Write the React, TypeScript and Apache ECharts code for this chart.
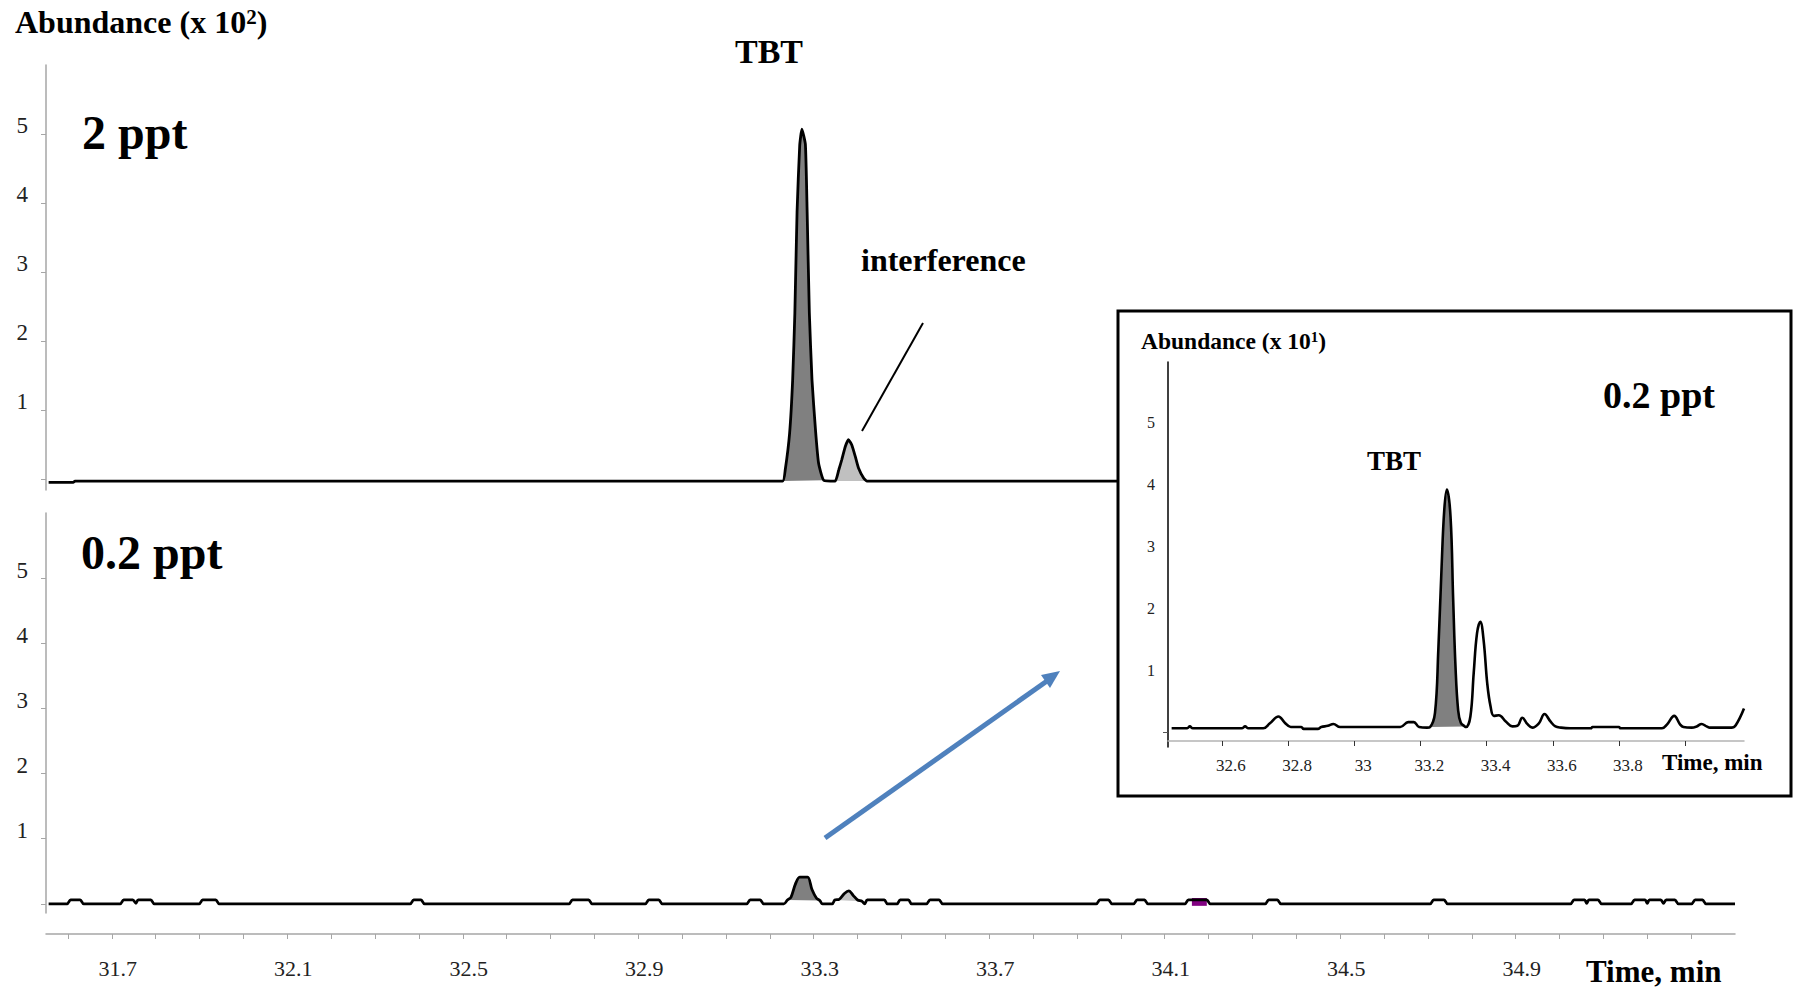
import React, { useEffect, useRef } from 'react';
import * as echarts from 'echarts';

const FONT = '"Liberation Serif", "Times New Roman", Times, serif';

// Upper panel (2 ppt): [retention time, abundance x 10^2]
const topTrace: [number, number][] = [
  [31.556, -0.05], [31.612, -0.05], [31.616, -0.03],
  [33.229, -0.03], [33.235, 0.13], [33.245, 0.66], [33.252, 1.44], [33.257, 2.41], [33.262, 3.87],
  [33.268, 4.83], [33.273, 5.07], [33.281, 4.85], [33.285, 3.87], [33.29, 2.41], [33.296, 1.44],
  [33.304, 0.71], [33.311, 0.23], [33.323, -0.02], [33.349, -0.03],
  [33.357, 0.13], [33.364, 0.28], [33.372, 0.47], [33.379, 0.57], [33.387, 0.49], [33.395, 0.32],
  [33.402, 0.16], [33.414, 0.01], [33.421, -0.03], [35.4, -0.03],
];

// Lower panel (0.2 ppt): [retention time, abundance x 10^2]
const bottomTrace: [number, number][] = [
  [31.556, 0],
  [31.598, 0], [31.606, 0.06], [31.628, 0.06], [31.636, 0],
  [31.719, 0], [31.727, 0.06], [31.748, 0.06], [31.755, 0.01], [31.76, 0.06], [31.789, 0.06], [31.797, 0],
  [31.899, 0], [31.907, 0.06], [31.937, 0.06], [31.945, 0],
  [32.38, 0], [32.388, 0.06], [32.405, 0.06], [32.413, 0],
  [32.742, 0], [32.75, 0.06], [32.787, 0.06], [32.795, 0],
  [32.916, 0], [32.924, 0.06], [32.947, 0.06], [32.955, 0],
  [33.147, 0], [33.155, 0.06], [33.178, 0.06], [33.186, 0],
  [33.232, 0], [33.24, 0.06], [33.248, 0.1], [33.258, 0.3], [33.268, 0.41], [33.286, 0.41],
  [33.296, 0.22], [33.306, 0.09], [33.314, 0.05], [33.32, 0],
  [33.342, 0], [33.348, 0.06], [33.358, 0.07], [33.37, 0.16], [33.38, 0.2], [33.39, 0.13],
  [33.4, 0.06], [33.41, 0.04], [33.416, 0], [33.422, 0.06],
  [33.461, 0.06], [33.468, 0],
  [33.49, 0], [33.497, 0.06], [33.516, 0.06], [33.523, 0],
  [33.557, 0], [33.565, 0.06], [33.586, 0.06], [33.594, 0],
  [33.944, 0], [33.952, 0.06], [33.972, 0.06], [33.98, 0],
  [34.029, 0], [34.037, 0.06], [34.054, 0.06], [34.062, 0],
  [34.146, 0], [34.154, 0.06], [34.196, 0.06], [34.204, 0],
  [34.329, 0], [34.337, 0.06], [34.357, 0.06], [34.365, 0],
  [34.705, 0], [34.713, 0.06], [34.737, 0.06], [34.745, 0],
  [35.025, 0], [35.033, 0.06], [35.057, 0.06], [35.062, 0.01], [35.067, 0.06], [35.088, 0.06], [35.096, 0],
  [35.163, 0], [35.171, 0.06], [35.195, 0.06], [35.2, 0.01], [35.205, 0.06], [35.231, 0.06],
  [35.237, 0.01], [35.243, 0.06], [35.263, 0.06], [35.271, 0],
  [35.301, 0], [35.309, 0.06], [35.326, 0.06], [35.334, 0],
  [35.4, 0],
];

// Inset (0.2 ppt, expanded): [retention time, abundance x 10^1]
const insetTrace: [number, number][] = [
  [32.448, 0.06], [32.495, 0.06], [32.503, 0.09], [32.512, 0.06],
  [32.66, 0.06], [32.67, 0.09], [32.68, 0.06],
  [32.725, 0.06], [32.745, 0.14], [32.771, 0.25], [32.79, 0.15], [32.808, 0.08], [32.84, 0.08],
  [32.847, 0.05], [32.89, 0.05], [32.9, 0.08], [32.92, 0.1], [32.937, 0.13], [32.957, 0.08],
  [33.139, 0.08], [33.163, 0.16], [33.18, 0.16], [33.196, 0.08], [33.22, 0.07],
  [33.229, 0.08], [33.244, 0.31], [33.254, 1.32], [33.264, 2.67], [33.272, 3.58], [33.28, 3.91],
  [33.291, 3.47], [33.299, 2.13], [33.306, 1.05], [33.314, 0.35], [33.322, 0.15], [33.334, 0.09],
  [33.338, 0.08], [33.351, 0.25], [33.361, 0.95], [33.371, 1.59], [33.381, 1.78], [33.391, 1.48],
  [33.402, 0.78], [33.412, 0.41], [33.422, 0.26], [33.437, 0.27], [33.458, 0.17], [33.478, 0.09],
  [33.493, 0.1], [33.508, 0.23], [33.523, 0.13], [33.538, 0.07], [33.558, 0.14], [33.575, 0.29],
  [33.593, 0.17], [33.608, 0.09], [33.625, 0.07],
  [33.653, 0.06], [33.715, 0.06], [33.72, 0.08], [33.8, 0.08], [33.805, 0.06], [33.93, 0.06],
  [33.945, 0.12], [33.967, 0.26], [33.985, 0.12], [33.995, 0.08], [34.02, 0.07], [34.035, 0.09],
  [34.05, 0.13], [34.065, 0.09], [34.075, 0.07], [34.11, 0.07], [34.14, 0.07], [34.153, 0.11],
  [34.178, 0.38],
];

// Integrated peak windows (retention time, min)
const topTbtRange = [33.229, 33.323];
const topInterferenceRange = [33.349, 33.421];
const bottomTbtRange = [33.24, 33.314];
const bottomInterferenceRange = [33.348, 33.41];
const insetTbtRange = [33.229, 33.334];
const flaggedSpan = [34.162, 34.196];

// Axis ticks and labels
const mainXTicks = [
  31.6, 31.7, 31.8, 31.9, 32.0, 32.1, 32.2, 32.3, 32.4, 32.5, 32.6, 32.7, 32.8, 32.9, 33.0, 33.1,
  33.2, 33.3, 33.4, 33.5, 33.6, 33.7, 33.8, 33.9, 34.0, 34.1, 34.2, 34.3, 34.4, 34.5, 34.6, 34.7,
  34.8, 34.9, 35.0, 35.1, 35.2, 35.3,
];
const mainXLabels = [31.7, 32.1, 32.5, 32.9, 33.3, 33.7, 34.1, 34.5, 34.9];
const mainYTicks = [0, 1, 2, 3, 4, 5];
const mainYLabels = [1, 2, 3, 4, 5];
const insetXTicks = [32.6, 32.8, 33.0, 33.2, 33.4, 33.6, 33.8, 34.0];
const insetXLabels = [32.6, 32.8, 33.0, 33.2, 33.4, 33.6, 33.8];
const insetYTicks = [0];
const insetYLabels = [1, 2, 3, 4, 5];

const GRAY_AXIS = '#a6a6a6';
const DARK_FILL = '#808080';
const LIGHT_FILL = '#c0c0c0';

function peakFill(
  trace: [number, number][],
  range: number[],
  color: string,
  axisIndex: number,
  z: number
) {
  const pts = trace.filter((p) => p[0] >= range[0] && p[0] <= range[1]);
  return {
    type: 'custom',
    xAxisIndex: axisIndex,
    yAxisIndex: axisIndex,
    z,
    silent: true,
    data: [pts[0]],
    renderItem: (_params: any, api: any) => ({
      type: 'polygon',
      shape: { points: pts.map((p) => api.coord(p)) },
      style: { fill: color },
    }),
  };
}

function boldText(text: string, x: number, y: number, size: number, align = 'left') {
  return {
    type: 'text',
    x,
    y,
    z: 70,
    style: {
      text,
      fontFamily: FONT,
      fontSize: size,
      fontWeight: 'bold',
      fill: '#000',
      align,
      verticalAlign: 'middle',
    },
  };
}

function supText(base: string, sup: string, x: number, y: number, size: number, supSize: number) {
  const tok = { fontFamily: FONT, fontWeight: 'bold', fill: '#000' };
  return {
    type: 'text',
    x,
    y,
    z: 70,
    style: {
      text: `{a|${base}}{s|${sup}}{a|)}`,
      verticalAlign: 'middle',
      rich: {
        a: { ...tok, fontSize: size },
        s: { ...tok, fontSize: supSize, verticalAlign: 'top' },
      },
    },
  };
}

const fmt = (v: number) => String(Number(v.toFixed(1)));

const mainYAxis = (gridIndex: number, min: number) => ({
  type: 'value',
  gridIndex,
  min,
  max: 6,
  axisLine: { show: true, lineStyle: { color: GRAY_AXIS, width: 1.5 } },
  axisTick: { show: true, customValues: mainYTicks, length: 5, lineStyle: { color: GRAY_AXIS } },
  axisLabel: {
    customValues: mainYLabels,
    margin: 18,
    fontSize: 23,
    fontFamily: FONT,
    color: '#222',
    verticalAlign: 'bottom',
    lineHeight: 16,
  },
  splitLine: { show: false },
});

const option: any = {
  animation: false,
  backgroundColor: '#fff',
  grid: [
    { left: 46, top: 65, width: 1689, height: 425 },
    { left: 46, top: 513, width: 1689, height: 400 },
    { left: 1168, top: 362, width: 576, height: 385, z: 60 },
  ],
  xAxis: [
    { type: 'value', gridIndex: 0, min: 31.55, max: 35.4, show: false },
    {
      type: 'value',
      gridIndex: 1,
      min: 31.55,
      max: 35.4,
      position: 'bottom',
      offset: 21,
      axisLine: { show: true, onZero: false, lineStyle: { color: GRAY_AXIS, width: 1.5 } },
      axisTick: { show: true, customValues: mainXTicks, length: 5, lineStyle: { color: GRAY_AXIS } },
      axisLabel: {
        customValues: mainXLabels,
        formatter: (v: number) => v.toFixed(1),
        margin: 23,
        fontSize: 22,
        fontFamily: FONT,
        color: '#222',
        padding: [0, 0, 0, 12],
      },
      splitLine: { show: false },
    },
    {
      type: 'value',
      gridIndex: 2,
      min: 32.437,
      max: 34.178,
      position: 'bottom',
      offset: -6,
      z: 60,
      axisLine: { show: true, onZero: false, lineStyle: { color: '#b4b4b4', width: 1.5 } },
      axisTick: { show: true, customValues: insetXTicks, length: 5, lineStyle: { color: '#333' } },
      axisLabel: {
        customValues: insetXLabels,
        formatter: fmt,
        margin: 16,
        fontSize: 17,
        fontFamily: FONT,
        color: '#222',
        padding: [0, 0, 0, 18],
      },
      splitLine: { show: false },
    },
  ],
  yAxis: [
    mainYAxis(0, -0.16),
    mainYAxis(1, -0.14),
    {
      type: 'value',
      gridIndex: 2,
      min: -0.242,
      max: 5.97,
      z: 60,
      axisLine: { show: true, lineStyle: { color: '#000', width: 1.5 } },
      axisTick: { show: true, customValues: insetYTicks, length: 5, lineStyle: { color: '#555' } },
      axisLabel: {
        customValues: insetYLabels,
        margin: 13,
        fontSize: 16,
        fontFamily: FONT,
        color: '#222',
      },
      splitLine: { show: false },
    },
  ],
  series: [
    peakFill(topTrace, topTbtRange, DARK_FILL, 0, 2),
    peakFill(topTrace, topInterferenceRange, LIGHT_FILL, 0, 2),
    {
      type: 'line',
      xAxisIndex: 0,
      yAxisIndex: 0,
      data: topTrace,
      showSymbol: false,
      smooth: 0.15,
      z: 3,
      lineStyle: { color: '#000', width: 2.8 },
    },
    peakFill(bottomTrace, bottomTbtRange, DARK_FILL, 1, 2),
    peakFill(bottomTrace, bottomInterferenceRange, LIGHT_FILL, 1, 2),
    {
      type: 'line',
      xAxisIndex: 1,
      yAxisIndex: 1,
      data: bottomTrace,
      showSymbol: false,
      smooth: 0.3,
      z: 3,
      lineStyle: { color: '#000', width: 2.8 },
      markArea: {
        silent: true,
        itemStyle: { color: '#800080' },
        data: [[{ coord: [flaggedSpan[0], -0.03] }, { coord: [flaggedSpan[1], 0.09] }]],
      },
    },
    peakFill(insetTrace, insetTbtRange, DARK_FILL, 2, 59),
    {
      type: 'line',
      xAxisIndex: 2,
      yAxisIndex: 2,
      data: insetTrace,
      showSymbol: false,
      smooth: 0.4,
      z: 60,
      lineStyle: { color: '#000', width: 2.6 },
    },
  ],
  graphic: [
    // inset frame
    {
      type: 'rect',
      z: 50,
      shape: { x: 1118, y: 311, width: 673, height: 485 },
      style: { fill: '#fff', stroke: '#000', lineWidth: 3 },
    },
    // arrow pointing to the inset
    {
      type: 'line',
      z: 5,
      shape: { x1: 825, y1: 838, x2: 1047, y2: 681 },
      style: { stroke: '#4f81bd', lineWidth: 5 },
    },
    {
      type: 'polygon',
      z: 5,
      shape: { points: [[1060, 671], [1050, 688], [1041, 675]] },
      style: { fill: '#4f81bd' },
    },
    // pointer for the interference peak
    {
      type: 'line',
      z: 5,
      shape: { x1: 923, y1: 323, x2: 862, y2: 431 },
      style: { stroke: '#000', lineWidth: 2 },
    },
    supText('Abundance (x 10', '2', 15, 22, 32, 21),
    boldText('TBT', 769, 51, 34, 'center'),
    boldText('2 ppt', 82, 132, 48),
    boldText('0.2 ppt', 81, 552, 48),
    boldText('interference', 861, 260, 32),
    boldText('Time, min', 1586, 971, 31),
    supText('Abundance (x 10', '1', 1141, 341, 23.5, 15),
    boldText('0.2 ppt', 1603, 395, 38),
    boldText('TBT', 1394, 461, 27, 'center'),
    boldText('Time, min', 1662, 762, 23),
  ],
};

export default function App() {
  const ref = useRef<HTMLDivElement>(null);
  useEffect(() => {
    const chart = echarts.init(ref.current!, null, { renderer: 'svg' });
    chart.setOption(option);
    return () => chart.dispose();
  }, []);
  return (
    <div
      ref={ref}
      style={{ position: 'fixed', left: 0, top: 0, width: 1794, height: 988, background: '#fff' }}
    />
  );
}
